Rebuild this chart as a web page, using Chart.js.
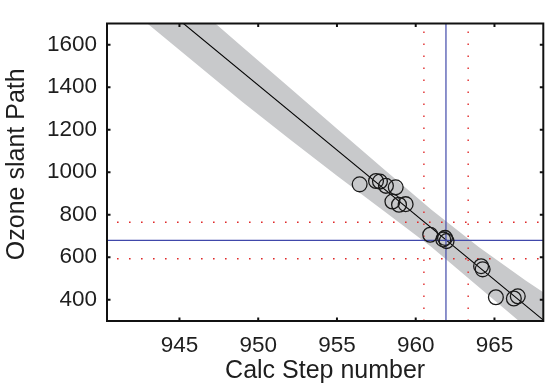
<!DOCTYPE html>
<html>
<head>
<meta charset="utf-8">
<script src="https://cdn.jsdelivr.net/npm/chart.js@4/dist/chart.umd.min.js"></script>
<style>
  html, body { margin: 0; padding: 0; background: #fff; overflow: hidden; }
  #wrap { width: 552px; height: 388px; }
</style>
</head>
<body>
<div id="wrap"><canvas id="c" width="552" height="388"></canvas></div>
<script>
// ---- data ----
const xTicks = [945, 950, 955, 960, 965];
const yTicks = [400, 600, 800, 1000, 1200, 1400, 1600];
const xRange = [940.4, 968.1];
const yRange = [300, 1700];
const xTitle = 'Calc Step number';
const yTitle = 'Ozone slant Path';

const stepNumber = [956.44, 957.48, 957.73, 958.11, 958.73, 958.52, 958.94, 959.36,
                    960.92, 961.86, 961.96, 961.75, 964.15, 964.25, 965.09, 966.23, 966.48];
const slantPath  = [943, 959, 956, 936, 929, 862, 847, 850,
                    706, 691, 676, 684, 558, 543, 412, 406, 416];

const fitX = [940, 970];
const fitY = [2020.6, 188.6];

const bandX     = [940, 943, 946, 949, 952, 955, 958, 961, 964, 967, 970];
const bandUpper = [2160, 1970, 1782, 1590, 1398, 1205, 1013, 823, 648, 490, 339];
const bandLower = [1881, 1698, 1514, 1331, 1155, 983, 816, 648, 460, 272, 84];

const targetPath = 679;
const estStep = 961.92;
const stepErr = [960.52, 963.33];
const pathErr = [593, 765];

// ---- build datasets ----
const pts = (xs, ys) => xs.map((x, i) => ({ x: x, y: ys[i] }));
const vline = x => [{ x: x, y: yRange[0] }, { x: x, y: yRange[1] }];
const hline = y => [{ x: xRange[0], y: y }, { x: xRange[1], y: y }];

const BLUE = '#4048aa';
const RED = '#e02a2a';

const datasets = [
  { type: 'scatter', data: pts(stepNumber, slantPath), pointStyle: 'circle',
    pointRadius: 7.4, pointBorderWidth: 1.3, borderColor: '#1a1a1a',
    backgroundColor: 'rgba(0,0,0,0)', order: 0 },
  { type: 'line', data: vline(estStep), borderColor: BLUE, borderWidth: 1.2, pointRadius: 0, order: 1 },
  { type: 'line', data: hline(targetPath), borderColor: BLUE, borderWidth: 1.2, pointRadius: 0, order: 1 },
  ...stepErr.map(v => ({ type: 'line', data: vline(v), borderColor: RED, borderWidth: 1.4,
    borderDash: [1.6, 10.4], pointRadius: 0, order: 2 })),
  ...pathErr.map(v => ({ type: 'line', data: hline(v), borderColor: RED, borderWidth: 1.4,
    borderDash: [1.6, 10.4], borderDashOffset: -10, pointRadius: 0, order: 2 })),
  { type: 'line', data: pts(fitX, fitY), borderColor: '#000', borderWidth: 1.1, pointRadius: 0, order: 3 },
  { type: 'line', data: pts(bandX, bandUpper), borderWidth: 0, borderColor: 'rgba(0,0,0,0)',
    pointRadius: 0, fill: false, order: 5 },
  { type: 'line', data: pts(bandX, bandLower), borderWidth: 0, borderColor: 'rgba(0,0,0,0)',
    pointRadius: 0, fill: '-1', backgroundColor: '#c8c9cb', order: 4 }
];

const FONT = "'Liberation Sans', Arial, Helvetica, sans-serif";

const frame = {
  id: 'frame',
  afterDraw(chart) {
    const { ctx, chartArea: a, scales: { x, y } } = chart;
    ctx.save();
    ctx.strokeStyle = '#111';
    ctx.lineWidth = 2;
    ctx.strokeRect(a.left, a.top, a.right - a.left, a.bottom - a.top);
    const L = 3.5;
    xTicks.forEach(v => {
      const p = x.getPixelForValue(v);
      ctx.beginPath();
      ctx.moveTo(p, a.bottom); ctx.lineTo(p, a.bottom - L);
      ctx.moveTo(p, a.top); ctx.lineTo(p, a.top + L);
      ctx.stroke();
    });
    yTicks.forEach(v => {
      const p = y.getPixelForValue(v);
      ctx.beginPath();
      ctx.moveTo(a.left, p); ctx.lineTo(a.left + L, p);
      ctx.moveTo(a.right, p); ctx.lineTo(a.right - L, p);
      ctx.stroke();
    });
    // y axis title (placed slightly above the plot centre as in the reference)
    ctx.translate(17, (a.top + a.bottom) / 2 - 8);
    ctx.rotate(-Math.PI / 2);
    ctx.fillStyle = '#1e1e1e';
    ctx.font = "25px " + FONT;
    ctx.textAlign = 'center';
    ctx.textBaseline = 'middle';
    ctx.fillText(yTitle, 0, 0);
    ctx.restore();
  }
};

new Chart(document.getElementById('c'), {
  data: { datasets: datasets },
  options: {
    responsive: false,
    animation: false,
    events: [],
    layout: { padding: { top: 7, right: 2, left: 0, bottom: 0 } },
    plugins: { legend: { display: false }, tooltip: { enabled: false } },
    scales: {
      x: {
        type: 'linear', min: xRange[0], max: xRange[1],
        grid: { display: false, drawTicks: false },
        border: { display: false },
        afterBuildTicks: s => { s.ticks = xTicks.map(v => ({ value: v })); },
        afterFit: s => { s.height = 67; },
        ticks: { color: '#1e1e1e', font: { family: FONT, size: 22.5 }, padding: 11, maxRotation: 0,
                 callback: v => String(v) },
        title: { display: true, text: xTitle, color: '#1e1e1e',
                 font: { family: FONT, size: 25 }, padding: { top: 0, bottom: 2 } }
      },
      y: {
        type: 'linear', min: yRange[0], max: yRange[1],
        grid: { display: false, drawTicks: false },
        border: { display: false },
        afterBuildTicks: s => { s.ticks = yTicks.map(v => ({ value: v })); },
        afterFit: s => { s.width = 107; },
        ticks: { color: '#1e1e1e', font: { family: FONT, size: 22.5 }, padding: 10,
                 callback: v => String(v) },
        title: { display: false, text: yTitle }
      }
    }
  },
  plugins: [frame]
});
</script>
</body>
</html>
